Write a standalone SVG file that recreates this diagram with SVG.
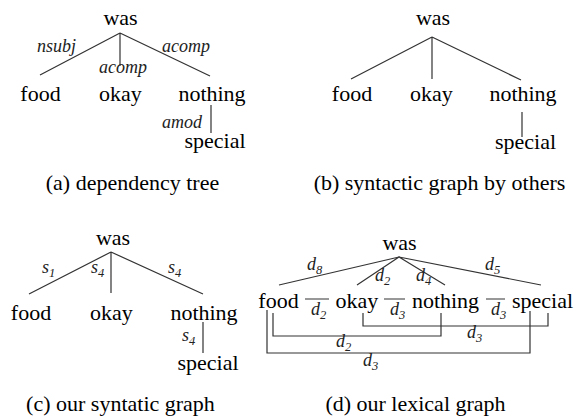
<svg xmlns="http://www.w3.org/2000/svg" width="582" height="416" viewBox="0 0 582 416">
<style>
text{font-family:"Liberation Serif","Times New Roman",Times,"DejaVu Serif",serif}
.w{font-size:22px;fill:#000;text-anchor:middle}
.l{font-size:18px;font-style:italic;fill:#222}
.s{font-size:12.5px}
.e{stroke:#333;stroke-width:1.2;fill:none}
</style>
<rect width="582" height="416" fill="#fff"/>
<!-- Panel a -->
<g id="a-was"><text class="w" x="120.5" y="25">was</text></g>
<g id="a-food"><text class="w" x="40.5" y="101">food</text></g>
<g id="a-okay"><text class="w" x="120.5" y="101">okay</text></g>
<g id="a-nothing"><text class="w" x="212" y="101">nothing</text></g>
<g id="a-special"><text class="w" x="215" y="148">special</text></g>
<g id="a-edges">
<path class="e" d="M120,33 L40,75 M120,33 L120,66 M120,33 L210,76 M211,105 L211,133"/>
<text class="l" x="37" y="52">nsubj</text>
<text class="l" x="162" y="52">acomp</text>
<text class="l" x="99" y="73">acomp</text>
<text class="l" x="162" y="128">amod</text>
</g>
<text class="w" x="132.5" y="190">(a) dependency tree</text>
<!-- Panel b -->
<g id="b-was"><text class="w" x="433" y="25">was</text></g>
<g id="b-food"><text class="w" x="352" y="101">food</text></g>
<g id="b-okay"><text class="w" x="431.5" y="101">okay</text></g>
<g id="b-nothing"><text class="w" x="523" y="101">nothing</text></g>
<g id="b-special"><text class="w" x="525.5" y="149">special</text></g>
<g id="b-edges">
<path class="e" d="M432,37 L351,79 M432,37 L432,79 M432,37 L521,80 M522,112 L522,137"/>
</g>
<text class="w" x="439.5" y="190">(b) syntactic graph by others</text>
<!-- Panel c -->
<g id="c-was"><text class="w" x="113" y="245">was</text></g>
<g id="c-food"><text class="w" x="31" y="320">food</text></g>
<g id="c-okay"><text class="w" x="111.5" y="320">okay</text></g>
<g id="c-nothing"><text class="w" x="204" y="320">nothing</text></g>
<g id="c-special"><text class="w" x="208" y="370">special</text></g>
<g id="c-edges">
<path class="e" d="M111,252 L29,294 M111,252 L111,293 M111,252 L203,294 M203,322 L203,353"/>
<text class="l" x="42" y="273">s<tspan class="s" dy="4">1</tspan></text>
<text class="l" x="91" y="273">s<tspan class="s" dy="4">4</tspan></text>
<text class="l" x="168" y="273">s<tspan class="s" dy="4">4</tspan></text>
<text class="l" x="182" y="341">s<tspan class="s" dy="4">4</tspan></text>
</g>
<text class="w" x="120.5" y="411">(c) our syntatic graph</text>
<!-- Panel d -->
<g id="d-was"><text class="w" x="399.5" y="250">was</text></g>
<g id="d-food"><text class="w" x="278.5" y="308">food</text></g>
<g id="d-okay"><text class="w" x="357" y="308">okay</text></g>
<g id="d-nothing"><text class="w" x="445.5" y="308">nothing</text></g>
<g id="d-special"><text class="w" x="542.5" y="308">special</text></g>
<g id="d-edges">
<path class="e" d="M399,257 L279,285 M399,257 L357,285 M399,257 L445,285 M399,257 L541,285"/>
<path class="e" d="M305,299 L329,299 M384,299 L405,299 M486,299 L505,299"/>
<path class="e" d="M363,313 L363,326 L548,326 L548,313"/>
<path class="e" d="M273,313 L273,336 L441,336 L441,313"/>
<path class="e" d="M267,310 L267,353 L530,353 L530,311"/>
<text class="l" x="307" y="270">d<tspan class="s" dy="4">8</tspan></text>
<text class="l" x="375" y="281">d<tspan class="s" dy="4">2</tspan></text>
<text class="l" x="416" y="281">d<tspan class="s" dy="4">4</tspan></text>
<text class="l" x="485" y="270">d<tspan class="s" dy="4">5</tspan></text>
<text class="l" x="311" y="315">d<tspan class="s" dy="4">2</tspan></text>
<text class="l" x="390" y="315">d<tspan class="s" dy="4">3</tspan></text>
<text class="l" x="491" y="315">d<tspan class="s" dy="4">3</tspan></text>
<text class="l" x="467" y="338">d<tspan class="s" dy="4">3</tspan></text>
<text class="l" x="336" y="347">d<tspan class="s" dy="4">2</tspan></text>
<text class="l" x="363" y="366">d<tspan class="s" dy="4">3</tspan></text>
</g>
<text class="w" x="415.5" y="411">(d) our lexical graph</text>
</svg>
